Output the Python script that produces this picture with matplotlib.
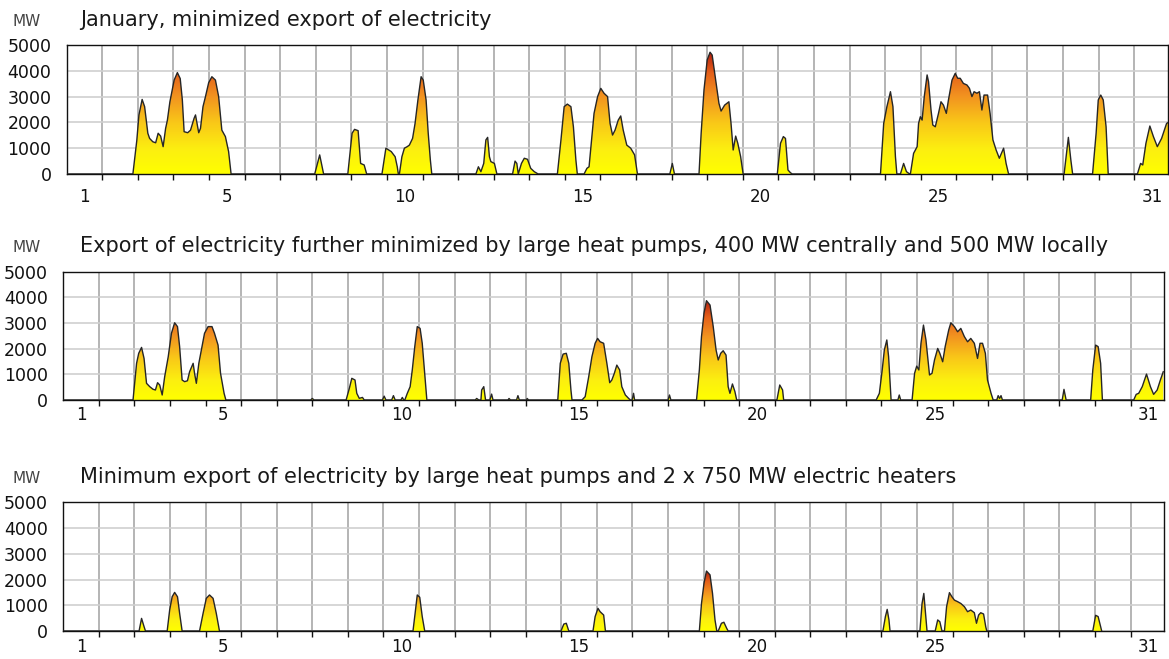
import numpy as np
import matplotlib
matplotlib.use("Agg")
import matplotlib.pyplot as plt
from matplotlib.colors import LinearSegmentedColormap
from matplotlib.patches import PathPatch

# x = days since 1 January 00:00, y = export in MW (vertices)
jan_days = [1.86, 1.97, 2.03, 2.12, 2.19, 2.28, 2.33, 2.42, 2.5, 2.57, 2.64, 2.71, 2.78, 2.83, 2.9,
            3.02, 3.11, 3.19, 3.25, 3.3, 3.4, 3.48, 3.58, 3.62, 3.71, 3.76, 3.83, 3.9, 3.99, 4.08,
            4.18, 4.27, 4.36, 4.46, 4.55, 4.62,
            6.97, 7.11, 7.22,
            7.9, 8.02, 8.09, 8.19, 8.26, 8.36, 8.43,
            8.86, 8.97, 9.12, 9.23, 9.29, 9.32,
            9.35, 9.42, 9.49, 9.57, 9.63, 9.72, 9.79, 9.87, 9.96, 10.02, 10.1, 10.16, 10.22, 10.26,
            11.5, 11.57, 11.64, 11.72, 11.78, 11.83, 11.88, 11.92, 12.02, 12.09,
            12.53, 12.6, 12.65, 12.69, 12.78, 12.86, 12.95, 13.04, 13.14, 13.25,
            13.79, 13.89, 13.98, 14.07, 14.17, 14.24, 14.31, 14.35,
            14.54, 14.62, 14.68, 14.75, 14.82, 14.92, 15.01, 15.1, 15.2, 15.27, 15.34, 15.41, 15.5,
            15.57, 15.64, 15.74, 15.85, 15.96, 16.04,
            16.95, 17.02, 17.08,
            17.77, 17.83, 17.91, 18.0, 18.08, 18.14, 18.24, 18.33, 18.39, 18.49, 18.61, 18.67, 18.73,
            18.8, 18.86, 18.94, 19.01,
            19.97, 20.06, 20.14, 20.2, 20.27, 20.34, 20.39,
            22.87, 22.96, 23.05, 23.15, 23.22, 23.29, 23.33,
            23.43, 23.52, 23.6, 23.69,
            23.71, 23.8, 23.9, 23.94, 23.99, 24.04, 24.1, 24.18, 24.22, 24.29, 24.34, 24.41, 24.5,
            24.57, 24.64, 24.72, 24.78, 24.88, 24.97, 25.04, 25.11, 25.2, 25.3, 25.37, 25.44, 25.5,
            25.58, 25.65, 25.72, 25.78, 25.88, 25.95, 26.03, 26.12, 26.21, 26.33, 26.4, 26.47,
            28.03, 28.15, 28.22, 28.27,
            28.83, 28.93, 28.99, 29.06, 29.13, 29.21, 29.27,
            30.09, 30.18, 30.24, 30.33, 30.44, 30.54, 30.65, 30.77, 30.91, 30.96]
jan_mw = [0, 1300, 2290, 2890, 2610, 1580, 1380, 1250, 1210, 1580, 1470, 1060, 1770, 2090, 2800,
          3640, 3930, 3700, 2870, 1640, 1600, 1700, 2160, 2290, 1600, 1770, 2610, 3000, 3540, 3770,
          3640, 3000, 1700, 1450, 870, 0,
          0, 740, 0,
          0, 1580, 1730, 1680, 410, 350, 0,
          0, 1000, 870, 670, 280, 0,
          0, 670, 1000, 1060, 1120, 1380, 1960, 2870, 3770, 3640, 2870, 1580, 540, 0,
          0, 280, 90, 410, 1320, 1420, 670, 480, 410, 0,
          0, 500, 410, 0, 410, 610, 570, 220, 90, 0,
          0, 1320, 2610, 2710, 2610, 1830, 540, 0,
          0, 220, 280, 1320, 2350, 3000, 3320, 3130, 3000, 1960, 1510, 1700, 2090,
          2250, 1700, 1120, 1000, 740, 0,
          0, 410, 0,
          0, 1580, 3260, 4420, 4720, 4610, 3640, 2740, 2440, 2670, 2800, 1960, 930,
          1470, 1190, 670, 0,
          0, 1190, 1450, 1380, 155, 50, 0,
          0, 1960, 2610, 3190, 2610, 670, 0,
          0, 410, 90, 0,
          0, 800, 1060, 1960, 2220, 2090, 3000, 3840, 3580, 2480, 1900, 1830, 2350,
          2800, 2670, 2350, 2870, 3640, 3900, 3710, 3710, 3510, 3450, 3320, 3000, 3190,
          3130, 3190, 2480, 3060, 3060, 2350, 1320, 930, 610, 1000, 410, 0,
          0, 1420, 540, 0,
          0, 1580, 2870, 3060, 2870, 1830, 0,
          0, 410, 350, 1190, 1860, 1450, 1060, 1380, 1960, 2000]

hp_days = [1.96, 2.06, 2.12, 2.2, 2.27, 2.34, 2.43, 2.52, 2.59, 2.65, 2.71, 2.78, 2.85, 2.95, 3.04,
           3.13, 3.21, 3.27, 3.34, 3.41, 3.49, 3.55, 3.65, 3.69, 3.74, 3.81, 3.88, 3.97, 4.07, 4.18,
           4.25, 4.35, 4.42, 4.52, 4.57,
           6.95, 7.0, 7.05,
           7.95, 8.04, 8.11, 8.2, 8.25, 8.32, 8.41, 8.46,
           8.97, 9.02, 9.07, 9.23, 9.28, 9.33, 9.49, 9.53, 9.57,
           9.6, 9.67, 9.75, 9.81, 9.88, 9.95, 10.03, 10.09, 10.16, 10.22,
           11.58, 11.62, 11.68, 11.74, 11.76, 11.82, 11.87, 11.99, 12.04, 12.08,
           12.5, 12.53, 12.57, 12.74, 12.78, 12.82, 13.02, 13.04, 13.08,
           13.9, 13.97, 14.05, 14.14, 14.21, 14.27, 14.3,
           14.58, 14.67, 14.77, 14.86, 14.95, 15.02, 15.09, 15.19, 15.28, 15.36, 15.42, 15.49, 15.56,
           15.64, 15.7, 15.8, 15.89, 15.94, 15.99, 16.03, 16.06,
           17.0, 17.04, 17.08,
           17.8, 17.88, 17.94, 18.01, 18.08, 18.18, 18.27, 18.35, 18.41, 18.48, 18.55, 18.63, 18.69,
           18.74, 18.81, 18.88, 18.93,
           20.06, 20.14, 20.22, 20.25,
           22.85, 22.94, 23.02, 23.08, 23.15, 23.2, 23.27, 23.46, 23.5, 23.54,
           23.86, 23.93, 23.99, 24.05, 24.11, 24.18, 24.25, 24.35, 24.42, 24.49, 24.58, 24.64, 24.72,
           24.79, 24.89, 24.95, 25.05, 25.14, 25.23, 25.33, 25.42, 25.51, 25.61, 25.7, 25.77, 25.84,
           25.92, 25.98, 26.08, 26.14, 26.24, 26.28, 26.32, 26.36, 26.4,
           28.08, 28.13, 28.19,
           28.88, 28.94, 29.02, 29.09, 29.16, 29.21,
           30.09, 30.16, 30.23, 30.33, 30.45, 30.56, 30.65, 30.75, 30.84, 30.92]
hp_mw = [0, 1430, 1820, 2050, 1620, 650, 520, 420, 390, 675, 585, 195, 910, 1690, 2600,
         3010, 2860, 2080, 780, 715, 750, 1100, 1430, 1040, 650, 1430, 1950, 2600, 2860, 2860,
         2600, 2140, 1040, 260, 0,
         0, 60, 0,
         0, 450, 845, 780, 260, 65, 100, 0,
         0, 150, 0, 0, 170, 0, 0, 100, 0,
         0, 260, 520, 1170, 2080, 2860, 2790, 2210, 1040, 0,
         0, 60, 0, 0, 390, 520, 0, 0, 230, 0,
         0, 60, 0, 0, 170, 0, 0, 60, 0,
         0, 1430, 1790, 1820, 1430, 390, 0,
         0, 130, 910, 1690, 2210, 2400, 2270, 2210, 1430, 675, 780, 1040, 1360,
         1170, 520, 195, 65, 0, 0, 260, 0,
         0, 195, 0,
         0, 1170, 2470, 3380, 3870, 3700, 2860, 1950, 1560, 1820, 1920, 1750, 520,
         260, 625, 325, 0,
         0, 585, 390, 0,
         0, 260, 1170, 1950, 2340, 1690, 0, 0, 195, 0,
         0, 1040, 1320, 1170, 2210, 2920, 2340, 975, 1040, 1560, 2010, 1820, 1490,
         2080, 2730, 3010, 2860, 2660, 2790, 2470, 2270, 2400, 2210, 1620, 2210, 2210,
         1820, 780, 260, 0, 0, 170, 60, 170, 0,
         0, 415, 0,
         0, 1170, 2140, 2080, 1430, 0,
         0, 220, 260, 520, 1010, 520, 220, 390, 780, 1100]

heat_days = [2.13, 2.2, 2.27, 2.31,
             2.92, 2.99, 3.06, 3.13, 3.21, 3.27, 3.34,
             3.83, 3.93, 4.02, 4.11, 4.21, 4.3, 4.39,
             9.83, 9.89, 9.95, 10.02, 10.09, 10.16,
             13.99, 14.07, 14.14, 14.21,
             14.89, 14.95, 15.03, 15.09, 15.19, 15.24,
             17.88, 17.94, 18.01, 18.08, 18.18, 18.25, 18.32, 18.37,
             18.41, 18.5, 18.57, 18.65, 18.69,
             23.04, 23.11, 23.16, 23.21, 23.24,
             24.08, 24.14, 24.19, 24.23, 24.28,
             24.51, 24.58, 24.64, 24.7,
             24.77, 24.83, 24.91, 24.98, 25.05, 25.14, 25.23, 25.33, 25.42, 25.51, 25.61, 25.67,
             25.73, 25.79, 25.87, 25.93, 25.96,
             28.94, 29.02, 29.09, 29.16, 29.19]
heat_mw = [0, 490, 170, 0,
           0, 815, 1330, 1500, 1330, 690, 0,
           0, 690, 1270, 1400, 1270, 690, 0,
           0, 690, 1400, 1310, 560, 0,
           0, 270, 300, 0,
           0, 560, 880, 750, 620, 0,
           0, 1070, 1850, 2330, 2180, 1460, 430, 0,
           0, 300, 340, 100, 0,
           0, 560, 840, 430, 0,
           0, 1070, 1460, 815, 0,
           0, 430, 360, 0,
           0, 945, 1490, 1330, 1200, 1140, 1070, 945, 750, 815, 710, 300,
           620, 710, 660, 170, 0,
           0, 610, 560, 170, 0]

titles = ["January, minimized export of electricity",
          "Export of electricity further minimized by large heat pumps, 400 MW centrally and 500 MW locally",
          "Minimum export of electricity by large heat pumps and 2 x 750 MW electric heaters"]
day_labels = [1, 5, 10, 15, 20, 25, 31]

W, H = 1169, 659
# axes boxes in pixels: left, right, top, bottom, and the gap to the day labels
boxes = [(66.7, 1168, 45, 174, 10), (63.3, 1164.3, 271.7, 400, 4), (63.3, 1164.3, 502.3, 631, 5)]
x_end = 30.95

# yellow at zero, dark red at each panel's own maximum
cmap = LinearSegmentedColormap.from_list(
    "heat", [(0, "#ffff00"), (0.2, "#fcef10"), (0.42, "#f9c818"), (0.64, "#f29320"),
             (0.83, "#e4601a"), (1, "#b41e0e")])

fig = plt.figure(figsize=(W / 100, H / 100), dpi=100)


def draw_panel(box, days, mw, title):
    l, r, t, b, lab_pad = box
    ax = fig.add_axes([l / W, 1 - b / H, (r - l) / W, (b - t) / H])
    x = np.concatenate([[0], days])
    y = np.concatenate([[0], mw])
    poly = ax.fill_between(x, 0, y, facecolor="none", edgecolor="none")
    patch = PathPatch(poly.get_paths()[0], transform=ax.transData,
                      facecolor="none", edgecolor="none")
    ax.add_patch(patch)
    grad = np.linspace(0, 1, 256).reshape(-1, 1)
    im = ax.imshow(grad, cmap=cmap, aspect="auto", origin="lower",
                   extent=[0, 31, 0, max(mw)], zorder=2, interpolation="bilinear")
    im.set_clip_path(patch)
    ax.plot(x, y, color="#262626", lw=1.0, zorder=3)

    ax.set_xlim(0, x_end)
    ax.set_ylim(0, 5000)
    ax.set_axisbelow(True)
    ax.set_xticks(np.arange(1, 31))
    ax.set_xticklabels([])
    ax.set_xticks([d - 0.5 for d in day_labels], minor=True)
    ax.set_xticklabels([str(d) for d in day_labels], minor=True, fontsize=12, color="#111")
    ax.tick_params(axis="x", which="major", length=4, width=1, direction="out", color="#111")
    ax.tick_params(axis="x", which="minor", length=0, pad=lab_pad)
    ax.set_yticks(np.arange(0, 5001, 1000))
    ax.tick_params(axis="y", length=0, pad=11, labelsize=12.5, labelcolor="#111")
    ax.grid(axis="x", which="major", color="#a8a8a8", lw=1.2)
    ax.grid(axis="y", color="#cfcfcf", lw=1.2)
    for s in ax.spines.values():
        s.set_color("#111")
        s.set_linewidth(1)

    base = 1 - (t - 19.5) / H
    fig.text(13 / W, base, "MW", fontsize=11, color="#444", va="baseline")
    fig.text(80 / W, base, title, fontsize=15, color="#1a1a1a", va="baseline")
    return ax


draw_panel(boxes[0], jan_days, jan_mw, titles[0])
draw_panel(boxes[1], hp_days, hp_mw, titles[1])
draw_panel(boxes[2], heat_days, heat_mw, titles[2])

fig.savefig("out.png", dpi=100)
